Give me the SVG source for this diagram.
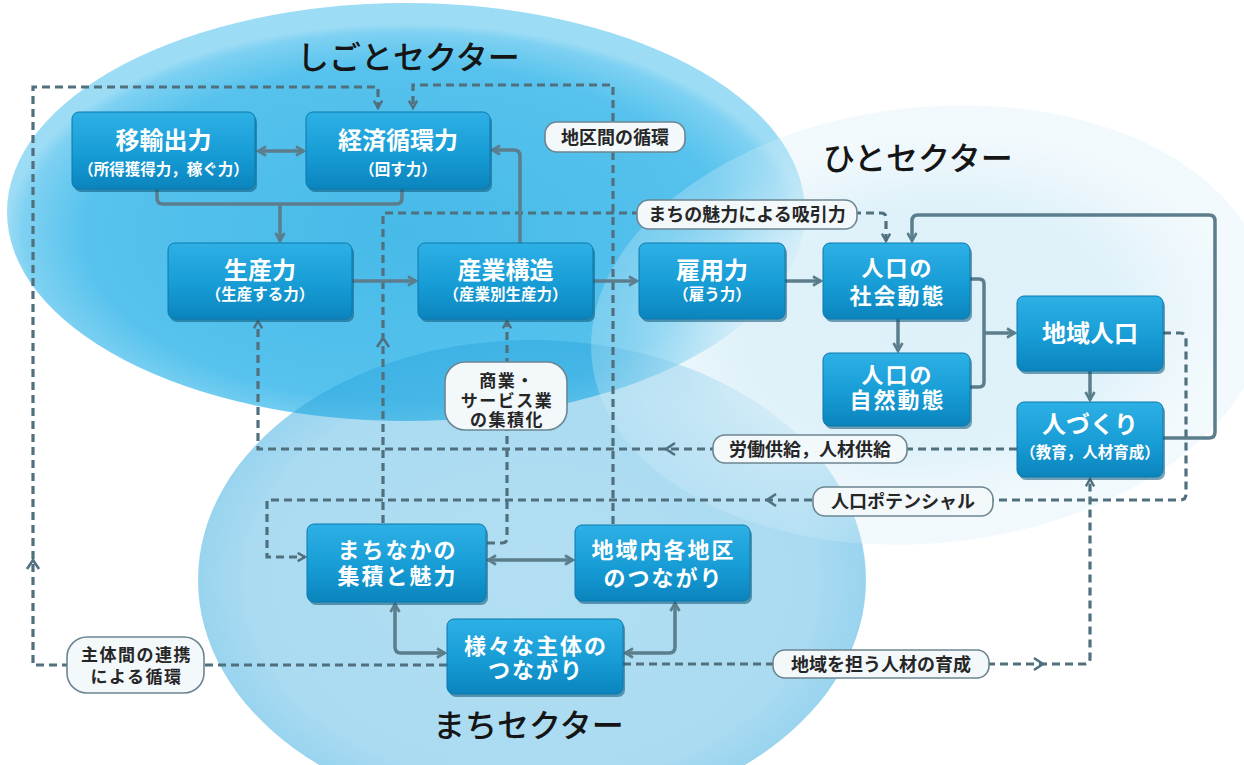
<svg xmlns="http://www.w3.org/2000/svg" width="1244" height="765" viewBox="0 0 1244 765">
<defs>
<style>
.bx{fill:url(#gBox);stroke:#0b79ad;stroke-width:1}
.sh{fill:#0a5678;opacity:0.55}
.t1{font-family:"Noto Sans CJK JP","Noto Sans CJK SC",sans-serif;font-weight:700;font-size:24px;fill:#ffffff;text-anchor:middle}
.m{font-size:22px;letter-spacing:2px}
.s{font-size:15.5px}
.ttl{font-family:"Noto Sans CJK JP","Noto Sans CJK SC",sans-serif;font-weight:500;font-size:32px;fill:#151515}
.lb{fill:#f3f8fb;stroke:#6c8591;stroke-width:1.6}
.lt{font-family:"Noto Sans CJK JP","Noto Sans CJK SC",sans-serif;font-weight:700;font-size:18px;fill:#262626;text-anchor:middle}
.lm{font-size:17px;letter-spacing:1.5px}
.sl{fill:none;stroke:#5b7d8c;stroke-width:3.5}
.dl{fill:none;stroke:#50707e;stroke-width:3.2;stroke-dasharray:8 5}
.chev{fill:none;stroke:#50707e;stroke-width:2.6}
</style>
<radialGradient id="gShigoto" cx="0.5" cy="0.55" r="0.5">
<stop offset="0" stop-color="#47bae8"/>
<stop offset="0.8" stop-color="#56c2ed"/>
<stop offset="0.96" stop-color="#7ed1f2"/>
<stop offset="1" stop-color="#9cdcf5"/>
</radialGradient>
<radialGradient id="gMachi" cx="0.5" cy="0.5" r="0.5">
<stop offset="0" stop-color="#2aa5dd" stop-opacity="0.36"/>
<stop offset="0.85" stop-color="#2aa5dd" stop-opacity="0.4"/>
<stop offset="1" stop-color="#2aa5dd" stop-opacity="0.48"/>
</radialGradient>
<radialGradient id="gHito" cx="0.5" cy="0.5" r="0.5">
<stop offset="0" stop-color="#dcf0f9" stop-opacity="0.95"/>
<stop offset="0.55" stop-color="#dcf0f9" stop-opacity="0.92"/>
<stop offset="0.75" stop-color="#dcf0f9" stop-opacity="0.55"/>
<stop offset="0.9" stop-color="#dcf0f9" stop-opacity="0.35"/>
<stop offset="1" stop-color="#d2ecf8" stop-opacity="0.3"/>
</radialGradient>
<linearGradient id="gBox" x1="0" y1="0" x2="0" y2="1">
<stop offset="0" stop-color="#2db0e5"/>
<stop offset="0.55" stop-color="#179cd5"/>
<stop offset="1" stop-color="#0b84bd"/>
</linearGradient>
<marker id="ah" viewBox="0 0 12 12" refX="10" refY="6" markerWidth="12" markerHeight="12" markerUnits="userSpaceOnUse" orient="auto-start-reverse">
<path d="M2,1.5 L10,6 L2,10.5" fill="none" stroke="#5b7d8c" stroke-width="2.6"/>
</marker>
<marker id="ahd" viewBox="0 0 12 12" refX="10" refY="6" markerWidth="11" markerHeight="11" markerUnits="userSpaceOnUse" orient="auto-start-reverse">
<path d="M2,1.5 L10,6 L2,10.5" fill="none" stroke="#50707e" stroke-width="2.6" stroke-dasharray="none"/>
</marker>
</defs>

<rect x="0" y="0" width="1244" height="765" fill="#ffffff"/>

<g id="sectors">
<ellipse id="sector-shigoto" cx="406" cy="212" rx="399" ry="209" fill="url(#gShigoto)"/>
<ellipse id="sector-machi" cx="532" cy="580" rx="334" ry="240" fill="url(#gMachi)"/>
<ellipse id="sector-hito" cx="930" cy="325" rx="340" ry="218" fill="url(#gHito)" transform="rotate(-6 930 325)"/>
<text class="ttl" x="297" y="69">しごとセクター</text>
<text class="ttl" x="823" y="170">ひとセクター</text>
<text class="ttl" x="433" y="737">まちセクター</text>
</g>

<g id="connectors">
<path class="dl" d="M447,665 H33 V87 H378 V108" marker-end="url(#ahd)"/>
<path class="dl" d="M613,524 V85 H413 V108" marker-end="url(#ahd)"/>
<path class="dl" d="M383,523 V213 H881 Q886,213 886,218 V241" marker-end="url(#ahd)"/>
<path class="dl" d="M487,543 H502 Q507,543 507,538 V321" marker-end="url(#ahd)"/>
<path class="dl" d="M1017,449 H258 V321" marker-end="url(#ahd)"/>
<path class="dl" d="M1163,333 H1180 Q1186,333 1186,339 V494 Q1186,500 1180,500 H267 V557 H305" marker-end="url(#ahd)"/>
<path class="dl" d="M623,664 H1084 Q1090,664 1090,658 V479" marker-end="url(#ahd)"/>
<path class="chev" d="M27,569 L33,560 L39,569"/>
<path class="chev" d="M377,347 L383,338 L389,347"/>
<path class="chev" d="M675,443 L666,449 L675,455"/>
<path class="chev" d="M776,494 L767,500 L776,506"/>
<path class="chev" d="M1034,658 L1043,664 L1034,670"/>
<path class="sl" d="M258,151 H304" marker-start="url(#ah)" marker-end="url(#ah)"/>
<path class="sl" d="M157,189 V198 Q157,204 163,204 H396 Q402,204 402,198 V189"/>
<path class="sl" d="M280,204 V241" marker-end="url(#ah)"/>
<path class="sl" d="M352,281 H416" marker-end="url(#ah)"/>
<path class="sl" d="M520,243 V156 Q520,150 514,150 H492" marker-end="url(#ah)"/>
<path class="sl" d="M593,281 H637" marker-end="url(#ah)"/>
<path class="sl" d="M785,281 H821" marker-end="url(#ah)"/>
<path class="sl" d="M898,319 V351" marker-end="url(#ah)"/>
<path class="sl" d="M970,279 H979 Q984,279 984,284 V382 Q984,387 979,387 H970"/>
<path class="sl" d="M984,333 H1015" marker-end="url(#ah)"/>
<path class="sl" d="M1090,371 V400" marker-end="url(#ah)"/>
<path class="sl" d="M1163,438 H1209 Q1215,438 1215,432 V221 Q1215,215 1209,215 H918 Q912,215 912,221 V241" marker-end="url(#ah)"/>
<path class="sl" d="M488,560 H573" marker-start="url(#ah)" marker-end="url(#ah)"/>
<path class="sl" d="M395,604 V647 Q395,653 401,653 H445" marker-start="url(#ah)" marker-end="url(#ah)"/>
<path class="sl" d="M675,603 V647 Q675,653 669,653 H625" marker-start="url(#ah)" marker-end="url(#ah)"/>
</g>

<g id="labels">
<g id="lbl-chiku"><rect class="lb" x="545" y="122" width="140" height="30" rx="12"/><text class="lt" x="615" y="144">地区間の循環</text></g>
<g id="lbl-miryoku"><rect class="lb" x="637" y="200" width="220" height="29" rx="12"/><text class="lt" x="747" y="221">まちの魅力による吸引力</text></g>
<g id="lbl-shogyo"><rect class="lb" x="445" y="362" width="122" height="68" rx="20"/><text class="lt lm" x="507" y="387">商業・<tspan x="507" y="406.5">サービス業</tspan><tspan x="507" y="425.5">の集積化</tspan></text></g>
<g id="lbl-rodo"><rect class="lb" x="713" y="435" width="194" height="28" rx="12"/><text class="lt" x="810" y="456">労働供給，人材供給</text></g>
<g id="lbl-potential"><rect class="lb" x="813" y="487" width="180" height="29" rx="12"/><text class="lt" x="903" y="508">人口ポテンシャル</text></g>
<g id="lbl-ninau"><rect class="lb" x="773" y="650" width="216" height="28" rx="12"/><text class="lt" x="881" y="671">地域を担う人材の育成</text></g>
<g id="lbl-shutai"><rect class="lb" x="67" y="637" width="137" height="56" rx="20"/><text class="lt lm" x="136.5" y="661">主体間の連携<tspan x="136.5" y="683">による循環</tspan></text></g>
</g>

<g id="n-iyushutsu"><rect class="sh" x="74" y="115" width="183" height="77" rx="7"/><rect class="bx" x="72" y="112" width="183" height="77" rx="7"/><text class="t1" x="163.5" y="149">移輸出力<tspan class="s" x="163.5" y="175">（所得獲得力，稼ぐ力）</tspan></text></g>
<g id="n-keizai"><rect class="sh" x="308" y="115" width="184" height="77" rx="7"/><rect class="bx" x="306" y="112" width="184" height="77" rx="7"/><text class="t1" x="398" y="149">経済循環力<tspan class="s" x="398" y="175">（回す力）</tspan></text></g>
<g id="n-seisan"><rect class="sh" x="170" y="246" width="184" height="76" rx="7"/><rect class="bx" x="168" y="243" width="184" height="76" rx="7"/><text class="t1" x="260" y="279">生産力<tspan class="s" x="260" y="300">（生産する力）</tspan></text></g>
<g id="n-sangyo"><rect class="sh" x="420" y="246" width="175" height="76" rx="7"/><rect class="bx" x="418" y="243" width="175" height="76" rx="7"/><text class="t1" x="505.5" y="279">産業構造<tspan class="s" x="505.5" y="300">（産業別生産力）</tspan></text></g>
<g id="n-koyo"><rect class="sh" x="641" y="246" width="146" height="76" rx="7"/><rect class="bx" x="639" y="243" width="146" height="76" rx="7"/><text class="t1" x="712" y="279">雇用力<tspan class="s" x="712" y="300">（雇う力）</tspan></text></g>
<g id="n-shakai"><rect class="sh" x="825" y="246" width="147" height="76" rx="7"/><rect class="bx" x="823" y="243" width="147" height="76" rx="7"/><text class="t1 m" x="897.5" y="276">人口の<tspan x="897.5" y="304">社会動態</tspan></text></g>
<g id="n-shizen"><rect class="sh" x="825" y="356" width="147" height="73" rx="7"/><rect class="bx" x="823" y="353" width="147" height="73" rx="7"/><text class="t1 m" x="897.5" y="383">人口の<tspan x="897.5" y="408">自然動態</tspan></text></g>
<g id="n-chiikijinko"><rect class="sh" x="1019" y="299" width="146" height="75" rx="7"/><rect class="bx" x="1017" y="296" width="146" height="75" rx="7"/><text class="t1" x="1090" y="342">地域人口</text></g>
<g id="n-hitozukuri"><rect class="sh" x="1019" y="405" width="146" height="75" rx="7"/><rect class="bx" x="1017" y="402" width="146" height="75" rx="7"/><text class="t1" x="1090" y="433">人づくり<tspan class="s" x="1090" y="458">（教育，人材育成）</tspan></text></g>
<g id="n-machinaka"><rect class="sh" x="309" y="527" width="179" height="78" rx="7"/><rect class="bx" x="307" y="524" width="179" height="78" rx="7"/><text class="t1 m" x="397.5" y="558">まちなかの<tspan x="397.5" y="584">集積と魅力</tspan></text></g>
<g id="n-chikinai"><rect class="sh" x="577" y="528" width="175" height="76" rx="7"/><rect class="bx" x="575" y="525" width="175" height="76" rx="7"/><text class="t1 m" x="663.5" y="558">地域内各地区<tspan x="663.5" y="586">のつながり</tspan></text></g>
<g id="n-samazama"><rect class="sh" x="449" y="622" width="176" height="75" rx="7"/><rect class="bx" x="447" y="619" width="176" height="75" rx="7"/><text class="t1 m" x="536" y="654">様々な主体の<tspan x="536" y="678">つながり</tspan></text></g>
</svg>
